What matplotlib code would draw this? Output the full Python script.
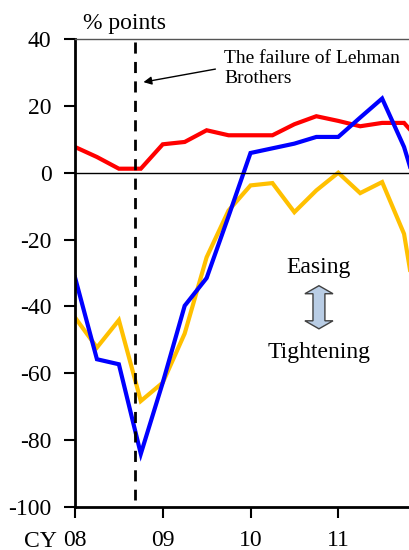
import matplotlib.pyplot as plt
from matplotlib.patches import Polygon

plt.rcParams['font.family'] = ['Liberation Serif', 'DejaVu Serif']
plt.rcParams['axes.unicode_minus'] = False

# quarterly data, CY2008 Q1 onward
quarters = [2008 + 0.25 * i for i in range(17)]
red = [7.7, 4.7, 1.2, 1.2, 8.5, 9.2, 12.7, 11.2, 11.2, 11.2, 14.5, 16.9, 15.5, 13.9, 14.9, 14.9, 7.5]
blue = [-31.3, -55.8, -57.3, -84.1, -62.8, -39.8, -31.5, -13.0, 5.9, 7.3, 8.7, 10.7, 10.7, 16.5, 22.2, 7.7, -14.0]
yellow = [-43.3, -52.3, -44.1, -68.3, -62.8, -48.1, -25.3, -11.3, -3.8, -3.1, -11.8, -5.3, 0.0, -6.1, -2.8, -18.3, -58.0]

year_ticks = [2008, 2009, 2010, 2011, 2012]
year_labels = ['08', '09', '10', '11', '12']
lehman = 2008.68

fig = plt.figure(figsize=(4.09, 5.5), dpi=100)
ax = fig.add_axes([75 / 409, 1 - 507 / 550, 351 / 409, 468 / 550])

ax.plot(quarters, red, color='#ff0000', linewidth=3, solid_joinstyle='miter')
ax.plot(quarters, yellow, color='#ffc000', linewidth=3, solid_joinstyle='miter')
ax.plot(quarters, blue, color='#0000ff', linewidth=3, solid_joinstyle='miter')
ax.axhline(0, color='black', linewidth=1)

# Lehman line
ax.plot([lehman, lehman], [39, -98], color='black', linestyle=(0, (4, 3)), linewidth=2)
ax.text(2009.7, 31.1, 'The failure of Lehman\nBrothers', fontsize=14, ha='left', va='center')
ax.annotate('', xy=(2008.78, 27.1), xytext=(2009.6, 31.0),
            arrowprops=dict(arrowstyle='-|>', color='black', lw=1, mutation_scale=12,
                            shrinkA=0, shrinkB=0))

ax.set_xlim(2008, 2012)
ax.set_ylim(-100, 40)
ax.set_yticks(range(-100, 41, 20))
ax.set_xticks(year_ticks)
ax.set_xticklabels(year_labels)
ax.tick_params(axis='both', direction='out', length=8, width=1.5, labelsize=17)
ax.tick_params(axis='x', pad=8.5)
ax.tick_params(axis='y', pad=9)

for side in ['left', 'bottom']:
    ax.spines[side].set_linewidth(2)
ax.spines['top'].set_linewidth(1)
ax.spines['top'].set_color('#555555')

fig.text(83 / 409, 1 - 24 / 550, '% points', fontsize=17, ha='left', va='center')
fig.text(24 / 409, 1 - 547 / 550, 'CY', fontsize=17, ha='left', va='baseline')

# easing / tightening
cx = 2010.78
ax.text(cx, -28.4, 'Easing', fontsize=17, ha='center', va='center')
ax.text(cx, -53.8, 'Tightening', fontsize=17, ha='center', va='center')
sw, hw, hl = 0.068, 0.16, 2.4
top, bot = -33.8, -46.7
arrow_pts = [(cx, top), (cx + hw, top - hl), (cx + sw, top - hl), (cx + sw, bot + hl),
             (cx + hw, bot + hl), (cx, bot), (cx - hw, bot + hl), (cx - sw, bot + hl),
             (cx - sw, top - hl), (cx - hw, top - hl)]
ax.add_patch(Polygon(arrow_pts, closed=True, facecolor='#b9cde5', edgecolor='#404040', linewidth=1))

fig.savefig('out.png', dpi=100)
